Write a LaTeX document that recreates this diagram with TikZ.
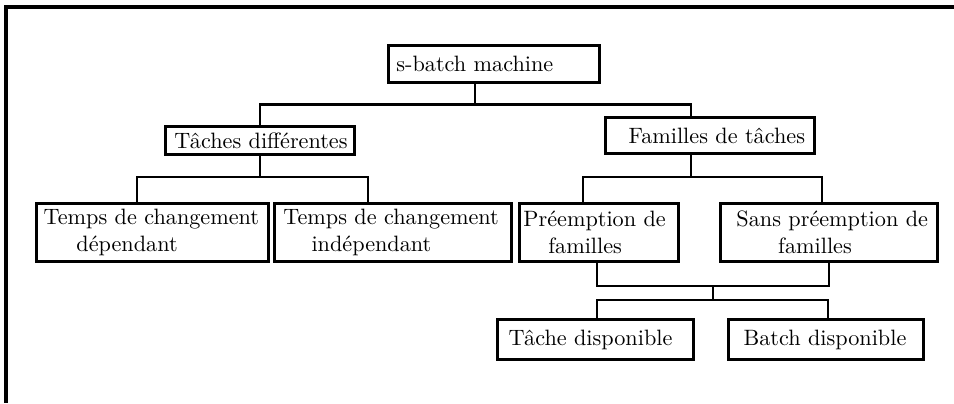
\documentclass[tikz,border=0pt]{standalone}
\usepackage{tikz}
\usetikzlibrary{calc}

\begin{document}
\begin{tikzpicture}[x=0.45pt, y=-0.45pt,
		boite/.style={draw, line width=1.3pt, anchor=north west, align=left, inner xsep=0pt, inner ysep=1pt},
		lien/.style={line width=1.2pt}]
		\useasboundingbox (0,0) rectangle (954,403);
		\draw[line width=1.8pt] (954,7) -- (6,7) -- (6,403);
		
		% racine
		\node[boite, text width=95pt, minimum height=16.6pt] (sbatch) at (387,44) {\hspace*{3.6pt}s-batch machine};
		
		% deux classes
		\node[boite, text width=85pt, minimum height=12.6pt] (taches) at (164,125) {\hspace*{4pt}Tâches différentes};
		\node[boite, text width=94pt, minimum height=16.2pt] (familles) at (604,116) {\hspace*{10.4pt}Familles de tâches};
		
		% sous-classes
		\node[boite, text width=104.4pt, minimum height=26.1pt] (dep) at (35,202) {\hspace*{3.2pt}Temps de changement\\\hspace*{18pt}dépendant};
		\node[boite, text width=106.6pt, minimum height=26.1pt] (indep) at (273,202) {\hspace*{4pt}Temps de changement\\\hspace*{16.7pt}indépendant};
		\node[boite, text width=71.6pt, minimum height=26.1pt] (preemp) at (518,202) {\hspace*{1.8pt}Préemption de\\\hspace*{13pt}familles};
		\node[boite, text width=97.7pt, minimum height=26.1pt] (sans) at (719,202) {\hspace*{7.2pt}Sans préemption de\\\hspace*{26pt}familles};
		
		% disponibilite
		\node[boite, text width=88.2pt, minimum height=18pt] (tache) at (496,318) {\hspace*{5pt}Tâche disponible};
		\node[boite, text width=87.8pt, minimum height=18pt] (batch) at (727,318) {\hspace*{6.8pt}Batch disponible};
		
		% liens
		\draw[lien] ($(sbatch.south west)+(88,0)$) -- ++(0,21) coordinate (b1);
		\draw[lien] (taches.north) |- (b1) -| ($(familles.north west)+(87,0)$);
		
		\draw[lien] (taches.south) -- ++(0,21) coordinate (b2);
		\draw[lien] ($(dep.north west)+(102,0)$) |- (b2) -| ($(indep.north west)+(95,0)$);
		
		\draw[lien] ($(familles.south west)+(87,0)$) -- ++(0,22) coordinate (b3);
		\draw[lien] ($(preemp.north west)+(65,0)$) |- (b3) -| ($(sans.north west)+(103,0)$);
		
		\coordinate (b4) at ($(preemp.south west)+(195,23)$);
		\draw[lien] ($(preemp.south west)+(79,0)$) |- (b4) -| ($(sans.south west)+(110,0)$);
		\draw[lien] (b4) -- ++(0,14) coordinate (b5);
		\draw[lien] ($(tache.north west)+(101,0)$) |- (b5) -| ($(batch.north west)+(101,0)$);
	\end{tikzpicture}
\end{document}
